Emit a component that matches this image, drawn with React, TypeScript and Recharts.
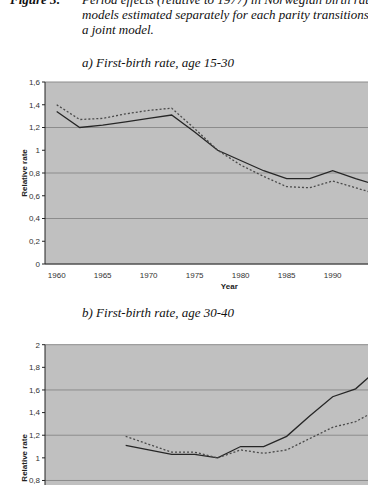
import React from 'react'
import { LineChart, Line, XAxis, YAxis, CartesianGrid } from 'recharts'

// period points, every 2.5 years
const years = [1960, 1962.5, 1965, 1967.5, 1970, 1972.5, 1975, 1977.5, 1980, 1982.5, 1985, 1987.5, 1990, 1992.5, 1995]

// a) first-birth rate, age 15-30
const separateA = [1.34, 1.2, 1.22, 1.25, 1.28, 1.31, 1.16, 1.0, 0.91, 0.82, 0.75, 0.75, 0.82, 0.75, 0.69]
const jointA = [1.4, 1.27, 1.28, 1.32, 1.35, 1.37, 1.19, 1.0, 0.87, 0.77, 0.68, 0.67, 0.73, 0.67, 0.61]

// b) first-birth rate, age 30-40
const separateB = [null, null, null, 1.11, 1.07, 1.03, 1.03, 1.0, 1.1, 1.1, 1.19, 1.37, 1.54, 1.61, 1.79]
const jointB = [null, null, null, 1.19, 1.12, 1.05, 1.05, 1.0, 1.07, 1.04, 1.07, 1.17, 1.27, 1.32, 1.43]

const xTicks = [1960, 1965, 1970, 1975, 1980, 1985, 1990]
const yTicksA = [0, 0.2, 0.4, 0.6, 0.8, 1, 1.2, 1.4, 1.6]
const yTicksB = [0.8, 1, 1.2, 1.4, 1.6, 1.8, 2]

const dataA = years.map((year, i) => ({ year, separate: separateA[i], joint: jointA[i] }))
const dataB = years.map((year, i) => ({ year, separate: separateB[i], joint: jointB[i] }))

const axisFont = { fontSize: 8, fill: '#333', fontFamily: '"Liberation Sans", Arial, sans-serif' }
const comma = (v: number) => String(v).replace('.', ',')

function PeriodChart({ data, ticks, max, top, height, showX }: any) {
  return (
    <div style={{ position: 'absolute', left: 0, top: 0 }}>
      <LineChart
        width={460}
        height={height}
        data={data}
        margin={{ top, right: 46.4, bottom: 6, left: 0 }}
      >
        <CartesianGrid vertical={false} fill="#c0c0c0" stroke="#8c8c8c" strokeWidth={1} />
        <XAxis
          dataKey="year"
          type="number"
          domain={[1958.73, 1998.8]}
          ticks={xTicks}
          tickLine={false}
          axisLine={{ stroke: '#333' }}
          tick={showX ? axisFont : false}
          height={30}
          label={showX ? { value: 'Year', position: 'insideBottom', offset: 5, style: { ...axisFont, fontWeight: 'bold', fill: '#222' } } : undefined}
        />
        <YAxis
          type="number"
          domain={[0, max]}
          ticks={ticks}
          width={45}
          tickSize={3}
          tickMargin={2}
          tickFormatter={comma}
          axisLine={{ stroke: '#222' }}
          tickLine={{ stroke: '#222' }}
          tick={axisFont}
          label={{ value: 'Relative rate', angle: -90, position: 'insideLeft', offset: 24, style: { ...axisFont, fontWeight: 'bold', fill: '#222', textAnchor: 'middle' } }}
        />
        <Line type="linear" dataKey="separate" stroke="#262626" strokeWidth={1.3} dot={false} isAnimationActive={false} />
        <Line type="linear" dataKey="joint" stroke="#4a4a4a" strokeWidth={1.3} strokeDasharray="2 2" dot={false} isAnimationActive={false} />
      </LineChart>
    </div>
  )
}

const serif = '"Liberation Serif", "Times New Roman", serif'

export default function App() {
  return (
    <div style={{ position: 'absolute', left: 0, top: 0, width: 368, height: 485, overflow: 'hidden', background: '#fff' }}>
      <PeriodChart data={dataA} ticks={yTicksA} max={1.6} top={82} height={300} showX />
      <PeriodChart data={dataB} ticks={yTicksB} max={2} top={344.7} height={607} showX={false} />
      <svg width={368} height={485} style={{ position: 'absolute', left: 0, top: 0, pointerEvents: 'none' }}>
        <g fontFamily={serif} fontStyle="italic" fontSize={13} fill="#111">
          <text x={10} y={4} fontWeight="bold">Figure 3:</text>
          <text x={82} y={4}>Period effects (relative to 1977) in Norwegian birth rates</text>
          <text x={82} y={19}>models estimated separately for each parity transitions, and</text>
          <text x={82} y={34}>a joint model.</text>
          <text x={82} y={67}>a) First-birth rate, age 15-30</text>
          <text x={82} y={317}>b) First-birth rate, age 30-40</text>
        </g>
      </svg>
    </div>
  )
}
